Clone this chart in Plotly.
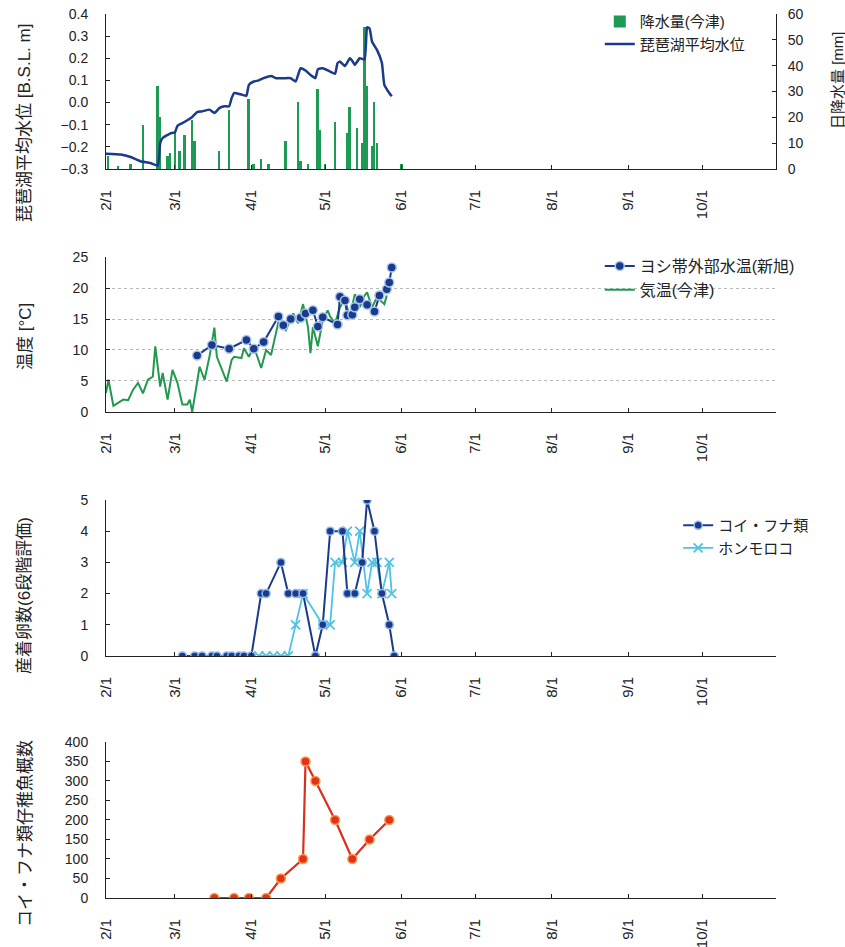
import pandas as pd
import plotly.graph_objects as go

BASE = pd.Timestamp("2015-02-01")

# ---- Panel 1: lake level (m, B.S.L.) and daily precipitation (mm); days since Feb 1
lake_day = [0, 6, 10, 14, 18, 21, 22, 23, 26, 28, 29, 31, 33, 35, 37, 39, 42, 44, 46, 48, 50, 51, 52,
            55, 57, 58, 60, 62, 64, 67, 69, 72, 75, 77, 79, 81, 83, 85, 86, 88, 91, 93, 94, 95, 97,
            99, 100, 101, 103, 105, 106, 107, 108, 110, 112, 113, 115, 116]
lake_level = [-0.231, -0.235, -0.246, -0.265, -0.273, -0.285, -0.183, -0.16, -0.14, -0.134, -0.105,
              -0.093, -0.08, -0.065, -0.043, -0.04, -0.032, -0.047, -0.025, -0.017, -0.017, 0.02,
              0.043, 0.036, 0.031, 0.08, 0.095, 0.1, 0.11, 0.12, 0.11, 0.11, 0.11, 0.095, 0.155,
              0.145, 0.125, 0.11, 0.15, 0.155, 0.14, 0.13, 0.178, 0.185, 0.165, 0.2, 0.188, 0.17,
              0.2, 0.195, 0.34, 0.335, 0.275, 0.238, 0.18, 0.08, 0.043, 0.028]

rain_day = [1, 5, 10, 15, 21, 22, 25, 26, 28, 30, 32, 35, 36, 46, 50, 58, 60, 63, 66, 73, 78, 79,
            82, 86, 87, 89, 93, 98, 99, 102, 104, 105, 106, 108, 109, 110, 120]
rain_mm = [5, 1, 2, 17, 32, 20, 5, 6, 14, 7, 13, 19, 11, 7, 23, 27, 2, 4, 2, 11, 26, 3,
           2, 31, 15, 2, 18, 14, 24, 16, 10, 55, 32, 9, 26, 10, 2]

# ---- Panel 2: temperatures (°C)
water_day = [37, 43, 50, 57, 60, 64, 70, 72, 75, 79, 81, 84, 86, 88, 94, 95, 97, 98, 100, 101,
             103, 106, 109, 111, 114, 115, 116]
water_temp = [9.1, 10.8, 10.2, 11.6, 10.2, 11.3, 15.4, 14.0, 15.0, 15.2, 15.9, 16.4, 13.8, 15.3,
              14.1, 18.6, 18.0, 15.6, 15.7, 16.9, 18.2, 17.3, 16.2, 18.8, 19.8, 20.9, 23.3]

air_day = [0, 1, 3, 5, 7, 9, 11, 13, 15, 17, 19, 20, 22, 23, 25, 27, 29, 31, 33, 34, 35, 38, 40,
           42, 44, 45, 47, 49, 51, 52, 55, 56, 58, 60, 63, 65, 67, 70, 71, 73, 76, 78, 80, 82, 83,
           84, 86, 88, 90, 91, 93, 95, 97, 99, 101, 103, 105, 106, 108, 110, 113, 114]
air_temp = [3.1, 5.2, 1.0, 1.5, 2.0, 1.9, 3.6, 4.7, 3.0, 5.2, 5.7, 10.6, 4.1, 6.3, 2.0, 6.8, 4.7,
            1.2, 1.2, 2.0, 0.0, 7.3, 5.2, 8.9, 13.6, 8.9, 6.8, 4.9, 8.4, 8.9, 8.7, 10.3, 8.9, 10.6,
            7.1, 10.0, 9.2, 14.5, 14.0, 13.2, 15.9, 14.3, 17.4, 13.7, 9.5, 13.7, 10.6, 14.8, 16.4,
            15.4, 14.3, 16.9, 18.2, 15.3, 19.0, 16.9, 18.8, 19.3, 16.9, 18.5, 17.4, 18.8]

# ---- Panel 3: egg counts (6-level score)
koi_day = [31, 36, 39, 43, 45, 49, 51, 54, 56, 59, 63, 65, 71, 74, 77, 80, 85, 88, 91, 96, 98,
           101, 104, 106, 109, 112, 115, 117]
koi_egg = [0, 0, 0, 0, 0, 0, 0, 0, 0, 0, 2, 2, 3, 2, 2, 2, 0, 1, 4, 4, 2, 2, 3, 5, 4, 2, 1, 0]

hon_day = [62, 65, 68, 71, 74, 77, 80, 88, 91, 93, 96, 98, 101, 103, 106, 108, 110, 112, 115, 116]
hon_egg = [0, 0, 0, 0, 0, 1, 2, 1, 1, 3, 3, 4, 3, 4, 2, 3, 3, 2, 3, 2]

# ---- Panel 4: carp/crucian fry counts
fry_day = [44, 52, 58, 65, 71, 80, 81, 85, 93, 100, 107, 115]
fry_count = [0, 0, 0, 0, 50, 100, 350, 300, 200, 100, 150, 200]

month_ticks = ["2015-02-01", "2015-03-01", "2015-04-01", "2015-05-01", "2015-06-01",
               "2015-07-01", "2015-08-01", "2015-09-01", "2015-10-01"]
month_labels = ["2/1", "3/1", "4/1", "5/1", "6/1", "7/1", "8/1", "9/1", "10/1"]


def to_dates(days):
    return BASE + pd.to_timedelta(days, unit="D")


NAVY = "#1b3a8c"
GREEN = "#23994f"
FONT = "Liberation Sans, Arial, Noto Sans CJK JP, sans-serif"

fig = go.Figure()

fig.add_trace(go.Bar(x=to_dates(rain_day), y=rain_mm, name="降水量(今津)",
                     marker=dict(color="#1f9a55", line=dict(width=0)),
                     width=0.75 * 86400000, xaxis="x", yaxis="y", legend="legend", legendrank=1))
fig.add_trace(go.Scatter(x=to_dates(lake_day), y=lake_level, name="琵琶湖平均水位", mode="lines",
                         line=dict(color=NAVY, width=2.5, shape="spline", smoothing=0.4),
                         xaxis="x", yaxis="y5", legend="legend", legendrank=2))

fig.add_trace(go.Scatter(x=to_dates(air_day), y=air_temp, name="気温(今津)", mode="lines",
                         line=dict(color=GREEN, width=2), xaxis="x2", yaxis="y2",
                         legend="legend2", legendrank=2))
fig.add_trace(go.Scatter(x=to_dates(water_day), y=water_temp, name="ヨシ帯外部水温(新旭)",
                         mode="lines+markers", line=dict(color=NAVY, width=2),
                         marker=dict(symbol="circle", size=9, color=NAVY,
                                     line=dict(color="#a9c8f0", width=1.5)),
                         xaxis="x2", yaxis="y2", legend="legend2", legendrank=1))

fig.add_trace(go.Scatter(x=to_dates(hon_day), y=hon_egg, name="ホンモロコ", mode="lines+markers",
                         line=dict(color="#4fc3e3", width=1.8),
                         marker=dict(symbol="x-thin", size=9, line=dict(color="#4fc3e3", width=1.8)),
                         xaxis="x3", yaxis="y3", legend="legend3", legendrank=2))
fig.add_trace(go.Scatter(x=to_dates(koi_day), y=koi_egg, name="コイ・フナ類", mode="lines+markers",
                         line=dict(color=NAVY, width=2),
                         marker=dict(symbol="circle", size=8, color=NAVY,
                                     line=dict(color="#8fb8ea", width=1.5)),
                         xaxis="x3", yaxis="y3", legend="legend3", legendrank=1))

fig.add_trace(go.Scatter(x=to_dates(fry_day), y=fry_count, name="コイ・フナ類仔稚魚概数",
                         mode="lines+markers", line=dict(color="#d8301c", width=2.2),
                         marker=dict(symbol="circle", size=9, color="#e2321c",
                                     line=dict(color="#ff9a4a", width=1.5)),
                         xaxis="x4", yaxis="y4", showlegend=False))

xcommon = dict(type="date", range=["2015-02-01", "2015-10-31"], tickvals=month_ticks,
               ticktext=month_labels, tickangle=-90, ticks="inside", ticklen=4,
               tickcolor="#222", showline=True, linecolor="#222", linewidth=1,
               showgrid=False, zeroline=False, ticklabelstandoff=14, automargin=False,
               tickfont=dict(size=15, color="#222"))
ycommon = dict(ticks="inside", ticklen=4, tickcolor="#222", showline=True, linecolor="#222",
               linewidth=1, zeroline=False, showgrid=False, ticklabelstandoff=14,
               automargin=False, tickfont=dict(size=14, color="#222"))

dom1 = [0.8247, 1.0]
dom2 = [0.5498, 0.7251]
dom3 = [0.2738, 0.4502]
dom4 = [0.0, 0.1765]

legend_common = dict(xanchor="left", yanchor="top", bgcolor="rgba(0,0,0,0)", itemwidth=30)

fig.update_layout(
    width=845, height=947, autosize=False,
    margin=dict(l=106, r=69, t=14, b=49, autoexpand=False),
    paper_bgcolor="white", plot_bgcolor="white",
    font=dict(family=FONT, size=14, color="#222"),
    bargap=0,
    xaxis=dict(xcommon, anchor="y"),
    xaxis2=dict(xcommon, anchor="y2"),
    xaxis3=dict(xcommon, anchor="y3"),
    xaxis4=dict(xcommon, anchor="y4"),
    yaxis=dict(ycommon, domain=dom1, anchor="x", side="right", range=[0, 60], dtick=10,
               ticklabelstandoff=8),
    yaxis5=dict(ycommon, overlaying="y", anchor="x", side="left", range=[-0.3, 0.4], dtick=0.1,
                tickformat=".1f"),
    yaxis2=dict(ycommon, domain=dom2, anchor="x2", range=[0, 25], dtick=5, showgrid=True,
                gridcolor="#b8b8b8", griddash="dot", gridwidth=1),
    yaxis3=dict(ycommon, domain=dom3, anchor="x3", range=[0, 5], dtick=1),
    yaxis4=dict(ycommon, domain=dom4, anchor="x4", range=[0, 400], dtick=50),
    legend=dict(legend_common, x=0.737, y=1.01, font=dict(size=15, color="#222")),
    legend2=dict(legend_common, x=0.737, y=0.734, font=dict(size=16, color="#222")),
    legend3=dict(legend_common, x=0.854, y=0.44, font=dict(size=15, color="#222")),
    showlegend=True,
)

title_font = dict(family=FONT, size=17, color="#222")
left_titles = [("琵琶湖平均水位 [B.S.L. m]", 0.8767), ("温度 [°C]", 0.6357),
               ("産着卵数(6段階評価)", 0.3428), ("コイ・フナ類仔稚魚概数", 0.0735)]
for text, yc in left_titles:
    fig.add_annotation(text=text, x=-0.121, y=yc, xref="paper", yref="paper", textangle=-90,
                       showarrow=False, xanchor="center", yanchor="middle", font=title_font)
fig.add_annotation(text="日降水量 [mm]", x=1.091, y=0.9253, xref="paper", yref="paper",
                   textangle=-90, showarrow=False, xanchor="center", yanchor="middle",
                   font=dict(family=FONT, size=15, color="#222"))

fig.write_html("out.html")
